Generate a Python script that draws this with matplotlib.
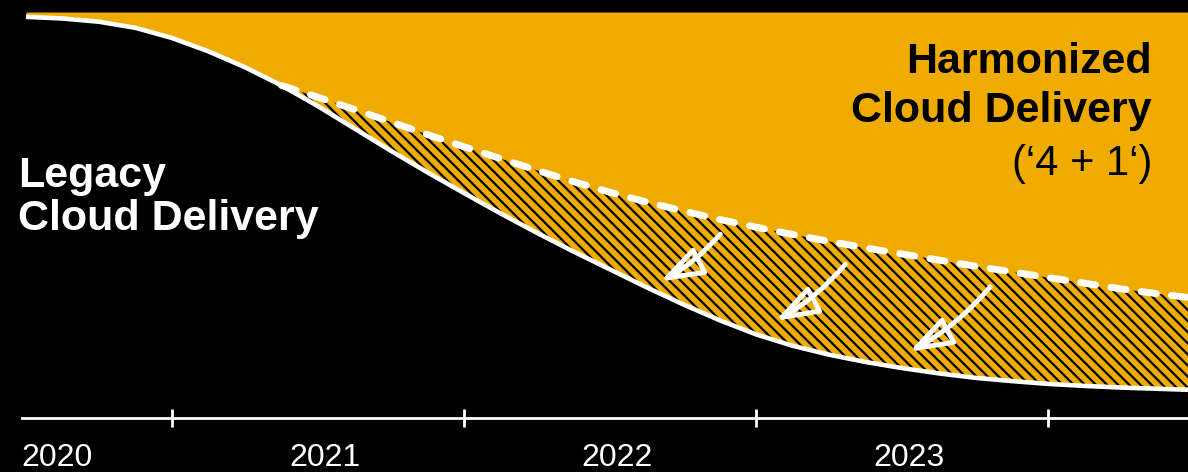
import numpy as np
import matplotlib
matplotlib.use('Agg')
import matplotlib.pyplot as plt
from matplotlib.patches import FancyArrowPatch

plt.rcParams['font.family'] = ['Liberation Sans', 'DejaVu Sans']
plt.rcParams['hatch.linewidth'] = 1.6

GOLD = '#F0AB00'

# share of delivery (%), every 1/8 year
years = [2020.500, 2020.625, 2020.750, 2020.875, 2021.000, 2021.125, 2021.250,
         2021.375, 2021.500, 2021.625, 2021.750, 2021.875, 2022.000, 2022.125,
         2022.250, 2022.375, 2022.500, 2022.625, 2022.750, 2022.875, 2023.000,
         2023.125, 2023.250, 2023.375, 2023.500, 2023.625, 2023.750, 2023.875,
         2024.000, 2024.125, 2024.250, 2024.375, 2024.500]
legacy = [98.8, 98.4, 97.6, 96.1, 93.6, 90.3, 86.4,
          81.9, 76.8, 71.3, 65.8, 60.5, 55.4, 50.4,
          45.6, 41.0, 36.6, 32.2, 28.0, 24.1, 20.6,
          17.8, 15.6, 13.8, 12.3, 11.0, 9.9, 9.1,
          8.4, 7.9, 7.5, 7.2, 6.9]
# dashed boundary of the transition band, starts at 2021.375
transition_years = years[7:]
transition = [81.9, 79.0, 76.0, 72.9, 69.8, 66.8, 63.9,
              61.0, 58.2, 55.6, 53.2, 51.0, 48.9, 47.0,
              45.2, 43.5, 41.9, 40.4, 38.9, 37.4, 36.0,
              34.6, 33.2, 31.8, 30.6, 29.5]

tick_years = [2021, 2022, 2023, 2024]
year_labels = ['2020', '2021', '2022', '2023']

# migration arrows: (start, tip) in (year, %)
arrows = [((2022.884, 45.8), (2022.664, 33.3)),
          ((2023.312, 38.4), (2023.058, 23.6)),
          ((2023.808, 32.8), (2023.517, 16.0))]

W, H = 1188, 472
fig = plt.figure(figsize=(W / 100, H / 100), dpi=100, facecolor='black')
ax = fig.add_axes([0, 0, 1, 1])
ax.set_facecolor('black')
ax.set_xlim(2021 - 172 / 292, 2021 + (W - 172) / 292)
ax.set_ylim((418 - H) / 4.06, 418 / 4.06)
ax.axis('off')


def fpos(x, y):
    # pixel position -> figure fraction
    return x / W, 1 - y / H


# areas
ax.fill_between(years, legacy, 100, color=GOLD, lw=0)
ax.fill_between(transition_years, legacy[7:], transition, facecolor=GOLD,
                edgecolor='black', hatch='\\\\\\', lw=0)
ax.plot(years, legacy, color='white', lw=3.3, solid_capstyle='butt',
        solid_joinstyle='round')
ax.plot(transition_years, transition, color='white', lw=5,
        linestyle=(0, (2.2, 2.2)), dash_capstyle='round')

for start, tip in arrows:
    ax.add_patch(FancyArrowPatch(start, tip, connectionstyle='arc3,rad=-0.1',
                                 arrowstyle='-|>,head_length=1.3,head_width=0.45',
                                 mutation_scale=20, color='white', fc='none',
                                 lw=3.5, capstyle='round', joinstyle='round'))

# time axis
ax.plot([years[0] - 0.015, ax.get_xlim()[1]], [0, 0], color='white', lw=2)
ax.vlines(tick_years, -2.2, 2.2, color='white', lw=2)
ax.text(years[0] - 0.015, -11.8, year_labels[0], color='white', fontsize=23,
        ha='left', va='baseline')
for y, lab in zip(tick_years[:-1], year_labels[1:]):
    ax.text(y + 0.525, -11.8, lab, color='white', fontsize=23,
            ha='center', va='baseline')

# labels
fig.text(*fpos(18, 187), 'Legacy', color='white', fontsize=31,
         fontweight='bold', ha='left', va='baseline')
fig.text(*fpos(18, 230), 'Cloud Delivery', color='white', fontsize=31,
         fontweight='bold', ha='left', va='baseline')
fig.text(*fpos(1152, 73), 'Harmonized', color='black', fontsize=31,
         fontweight='bold', ha='right', va='baseline')
fig.text(*fpos(1152, 122), 'Cloud Delivery', color='black', fontsize=31,
         fontweight='bold', ha='right', va='baseline')
fig.text(*fpos(1152, 175), '(\u20184 + 1\u2018)', color='black', fontsize=30,
         ha='right', va='baseline')

fig.savefig('out.png', dpi=100, facecolor='black')
